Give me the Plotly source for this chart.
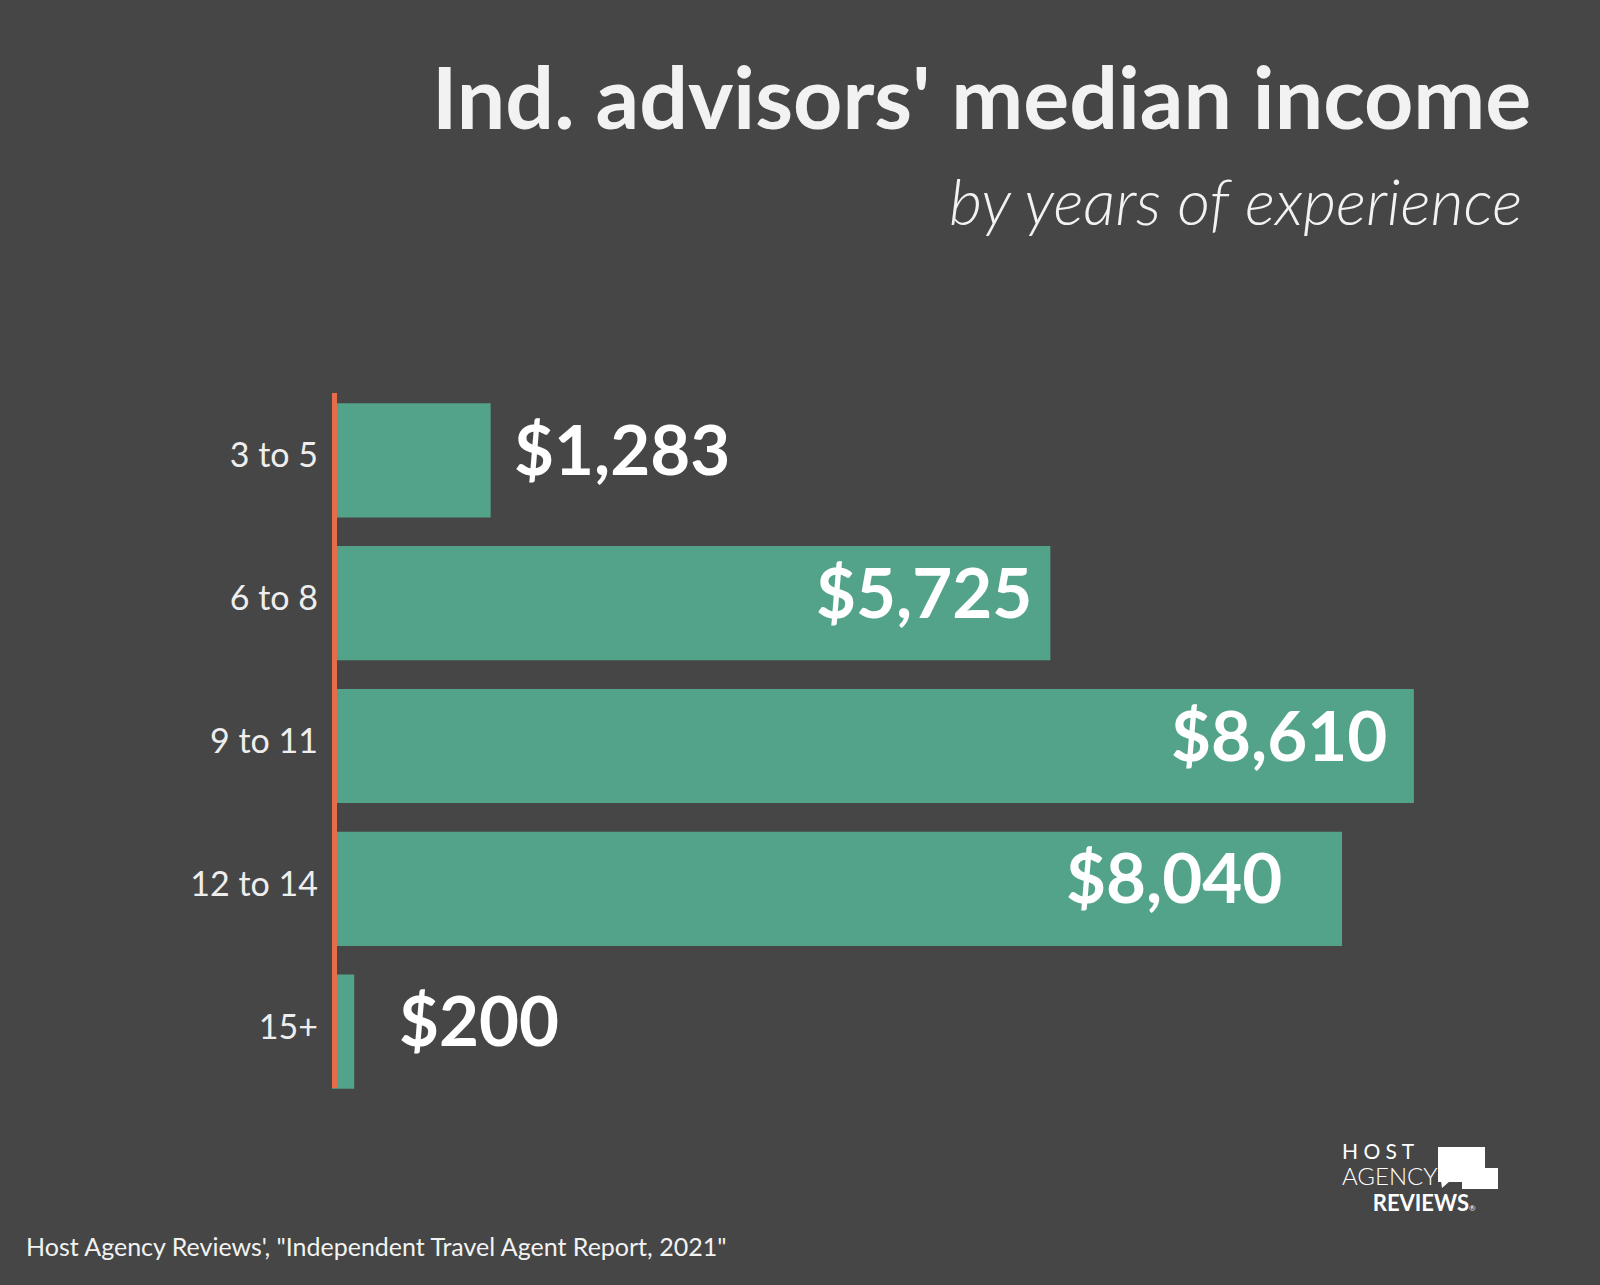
import plotly.graph_objects as go

# ---- data ----
categories = ["3 to 5", "6 to 8", "9 to 11", "12 to 14", "15+"]
median_income = [1283, 5725, 8610, 8040, 200]
label_inside = [False, True, True, True, False]
label_shift = [21, -16, -25, -58, 43]

title_text = "Ind. advisors' median income"
subtitle_text = "by years of experience"
source_text = "Host Agency Reviews', \"Independent Travel Agent Report, 2021\""

# ---- layout geometry (pixels) ----
W, H = 1600, 1285
ML, MR, MT, MB = 329, 11, 389, 182
PW = W - ML - MR
PH = H - MT - MB

def px(x):
    return (x - ML) / PW

def py(y):
    return (H - MB - y) / PH

BG = "#464646"
BAR = "#53a38a"
AXIS = "#e56d4b"
FONT = "Lato"

fig = go.Figure()
fig.add_trace(go.Bar(
    x=median_income, y=categories, orientation="h",
    marker=dict(color=BAR, line=dict(width=0)),
    hoverinfo="skip",
))

annotations = []
for c, v, inside, sh in zip(categories, median_income, label_inside, label_shift):
    annotations.append(dict(
        x=v, y=c, xref="x", yref="y",
        text=f"${v:,}", showarrow=False,
        xanchor="right" if inside else "left", yanchor="middle",
        xshift=sh, yshift=12,
        font=dict(family=FONT, size=69, color="#ffffff", weight=700),
    ))

# title & subtitle
annotations.append(dict(
    x=px(1533), y=py(96), xref="paper", yref="paper", text=title_text,
    showarrow=False, xanchor="right", yanchor="middle",
    font=dict(family=FONT, size=86, color="#f2f2f2", weight=700),
))
annotations.append(dict(
    x=px(1524), y=py(200), xref="paper", yref="paper", text=subtitle_text,
    showarrow=False, xanchor="right", yanchor="middle",
    font=dict(family=FONT, size=64, color="#f2f2f2", weight=300, style="italic"),
))
# source
annotations.append(dict(
    x=px(24), y=py(1246), xref="paper", yref="paper", text=source_text,
    showarrow=False, xanchor="left", yanchor="middle",
    font=dict(family=FONT, size=25, color="#f2f2f2"),
))
# logo text (single block)
nb = "\u00a0"
logo_text = (
    "<span style='font-size:21px'>H" + nb + "O" + nb + "S" + nb + "T</span><br>"
    "<span style='font-size:24px;font-weight:300'>AGENCY</span><br>"
    + nb * 6 + "<span style='font-size:22px'><b>REVIEWS</b></span>"
    "<span style='font-size:8px'>®</span>"
)
annotations.append(dict(
    x=px(1340), y=py(1177), xref="paper", yref="paper", text=logo_text,
    showarrow=False, xanchor="left", yanchor="middle", align="left",
    font=dict(family=FONT, size=20, color="#ffffff"),
))

shapes = [
    # mask bar portion left of the axis line
    dict(type="rect", xref="paper", yref="paper", layer="above",
         x0=px(322), x1=px(332), y0=py(1100), y1=py(390),
         fillcolor=BG, line=dict(width=0)),
    # vertical axis line
    dict(type="line", xref="paper", yref="paper", layer="above",
         x0=px(334.5), x1=px(334.5), y0=py(1088), y1=py(393),
         line=dict(color=AXIS, width=5)),
    # truck body
    dict(type="rect", xref="paper", yref="paper",
         x0=px(1438), x1=px(1485), y0=py(1182), y1=py(1147),
         fillcolor="#ffffff", line=dict(width=0)),
    # truck cab
    dict(type="rect", xref="paper", yref="paper",
         x0=px(1462), x1=px(1498), y0=py(1189), y1=py(1168),
         fillcolor="#ffffff", line=dict(width=0)),
    dict(type="path", xref="paper", yref="paper",
         path=f"M {px(1441)} {py(1181)} L {px(1450)} {py(1181)} L {px(1442)} {py(1188)} Z",
         fillcolor="#ffffff", line=dict(width=0)),
]

fig.update_layout(
    width=W, height=H,
    margin=dict(l=ML, r=MR, t=MT, b=MB, pad=0),
    paper_bgcolor=BG, plot_bgcolor=BG,
    showlegend=False, bargap=0.2,
    xaxis=dict(range=[0, 10000], visible=False, fixedrange=True),
    yaxis=dict(autorange="reversed", showgrid=False, zeroline=False, showline=False,
               ticks="", ticklabelstandoff=10, ticklabelshift=5,
               tickfont=dict(family=FONT, size=34, color="#eeeeee")),
    annotations=annotations, shapes=shapes,
)

fig.write_html("out.html")
